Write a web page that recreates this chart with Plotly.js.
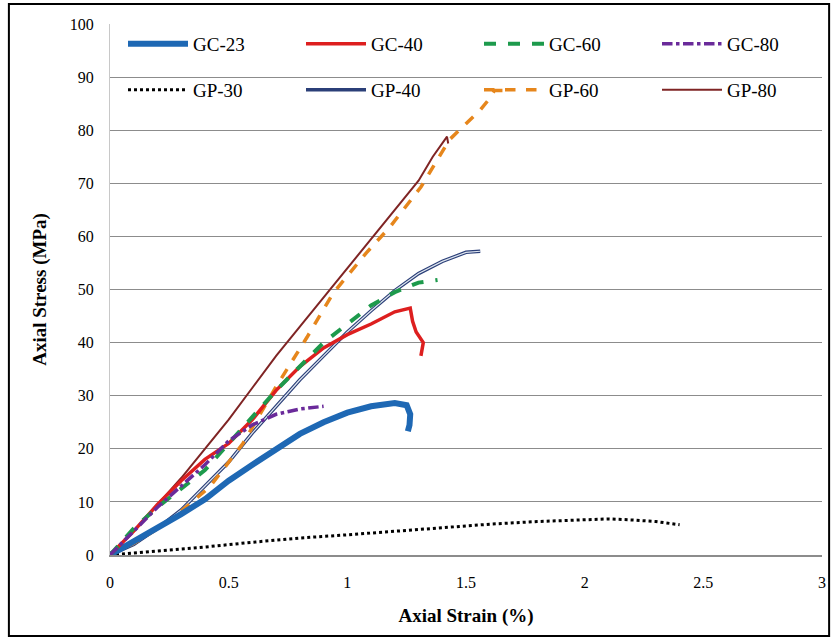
<!DOCTYPE html>
<html><head><meta charset="utf-8">
<script src="https://cdn.plot.ly/plotly-3.0.1.min.js"></script>
<style>html,body{margin:0;padding:0;background:#fff}#chart{width:831px;height:641px}</style>
</head><body><div id="chart"></div>
<script>
// GC-23
const gc23_x = [0,0.1,0.2,0.3,0.4,0.5,0.6,0.7,0.8,0.9,1.0,1.1,1.2,1.25,1.265,1.262,1.255];
const gc23_y = [0,2.5,5,7.7,10.5,14,17,20,22.8,25,26.8,28,28.6,28.2,26.5,24.5,23.3];
// GC-40
const gc40_x = [0,0.1,0.2,0.3,0.4,0.5,0.6,0.7,0.8,0.9,1.0,1.1,1.2,1.265,1.275,1.29,1.32,1.31];
const gc40_y = [0,4.5,9.5,14,18,21,25.5,31,35.5,39,41.5,43.5,45.8,46.5,44,42,40,37.5];
// GC-60
const gc60_x = [0,0.1,0.2,0.3,0.4,0.5,0.6,0.7,0.8,0.9,1.0,1.1,1.2,1.3,1.38];
const gc60_y = [0,5,9,12.5,16,21,26,31,35.5,40,43.5,47,49.5,51.3,51.8];
// GC-80
const gc80_x = [0,0.1,0.2,0.3,0.4,0.5,0.6,0.7,0.8,0.9];
const gc80_y = [0,4.5,9,13,17,21.5,24.5,26.5,27.5,28];
// GP-30
const gp30_x = [0,0.2,0.4,0.6,0.8,1.0,1.2,1.4,1.6,1.8,2.0,2.1,2.2,2.3,2.4];
const gp30_y = [0,0.7,1.5,2.4,3.2,3.8,4.5,5.1,5.8,6.3,6.7,6.8,6.6,6.3,5.7];
// GP-40
const gp40_x = [0,0.1,0.2,0.3,0.4,0.5,0.6,0.7,0.8,0.9,1.0,1.1,1.2,1.3,1.4,1.5,1.56];
const gp40_y = [0,2,5,8.5,13,17.5,23,28,33,37.5,42,46,49.8,53,55.3,57,57.2];
// GP-60
const gp60_x = [0,0.1,0.24,0.42,0.56,0.7,0.83,0.94,1.08,1.18,1.31,1.43,1.56,1.6,1.62,1.66];
const gp60_y = [0,2.2,6,12.8,21,31.7,41,49.3,56.9,61.8,69.3,78.2,83.8,86,87.5,87.5];
// GP-80
const gp80_x = [0,0.1,0.2,0.3,0.4,0.5,0.6,0.7,0.8,0.9,1.0,1.1,1.2,1.3,1.36,1.4,1.42,1.425];
const gp80_y = [0,4.5,9.5,14.5,20,25.5,31.5,37.5,43,48.5,54,59.5,65,70.5,75,77.5,78.8,77.5];

const serif = 'Liberation Serif, Times New Roman, serif';
function tr(name, x, y, line, legend, extra) {
  return Object.assign({type:'scatter', mode:'lines', name, x, y, line, legend}, extra||{});
}
const data = [
  tr('GP-30', gp30_x, gp30_y, {color:'#000000', width:3, dash:'dot'}, 'legend5'),
  tr('GP-40', gp40_x, gp40_y, {color:'#2b3f78', width:3.5}, 'legend6'),
  tr('GP-40w', gp40_x, gp40_y, {color:'#dfe6f0', width:1.2}, 'legend6', {showlegend:false}),
  tr('GP-60', gp60_x, gp60_y, {color:'#e6861c', width:3.5, dash:'dash'}, 'legend7'),
  tr('GP-80', gp80_x, gp80_y, {color:'#7f2424', width:2}, 'legend8'),
  tr('GC-23', gc23_x, gc23_y, {color:'#1e68b4', width:6}, 'legend'),
  tr('GC-40', gc40_x, gc40_y, {color:'#dd1f1f', width:3.5}, 'legend2'),
  tr('GC-60', gc60_x, gc60_y, {color:'#1d9a4c', width:4, dash:'dash'}, 'legend3'),
  tr('GC-80', gc80_x, gc80_y, {color:'#6a2a9a', width:3.5, dash:'dashdot'}, 'legend4'),
];
const colPx = [128, 306, 484, 662];
const rowPx = [44, 90];
function leg(col, row) {
  return {orientation:'v', xref:'paper', yref:'paper', xanchor:'left', yanchor:'middle',
    x:(colPx[col]-5-110)/712, y:(555-rowPx[row])/531,
    bgcolor:'rgba(0,0,0,0)', font:{family:serif, size:19, color:'#000'},
    itemwidth:60, itemclick:false, borderwidth:0};
}
const layout = {
  width:831, height:641,
  margin:{l:110, r:9, t:24, b:86},
  paper_bgcolor:'#fff', plot_bgcolor:'#fff',
  showlegend:true,
  legend: leg(0,0), legend2: leg(1,0), legend3: leg(2,0), legend4: leg(3,0),
  legend5: leg(0,1), legend6: leg(1,1), legend7: leg(2,1), legend8: leg(3,1),
  xaxis:{range:[0,3], dtick:0.5, tick0:0, showgrid:false, zeroline:false, showline:true, linecolor:'#8c8c8c', linewidth:1.5,
    ticks:'', tickfont:{family:serif, size:16, color:'#000'}, ticklabelstandoff:12,
    title:{text:'<b>Axial Strain (%)</b>', font:{family:serif, size:19, color:'#000'}, standoff:19}},
  yaxis:{range:[0,100], dtick:10, tick0:0, showgrid:true, gridcolor:'#8c8c8c', gridwidth:1, zeroline:false,
    showline:true, linecolor:'#c8c8c8', linewidth:1, ticks:'', tickfont:{family:serif, size:16, color:'#000'}, ticklabelstandoff:12,
    title:{text:'<b>Axial Stress (MPa)</b>', font:{family:serif, size:19, color:'#000'}, standoff:18}},
  shapes:[{type:'rect', xref:'paper', yref:'paper', x0:-0.142, x1:1.01, y0:-0.1525, y1:1.0377,
    line:{color:'#000', width:2}, fillcolor:'rgba(0,0,0,0)', layer:'above'}]
};
Plotly.newPlot('chart', data, layout, {displayModeBar:false, staticPlot:true});
</script></body></html>
